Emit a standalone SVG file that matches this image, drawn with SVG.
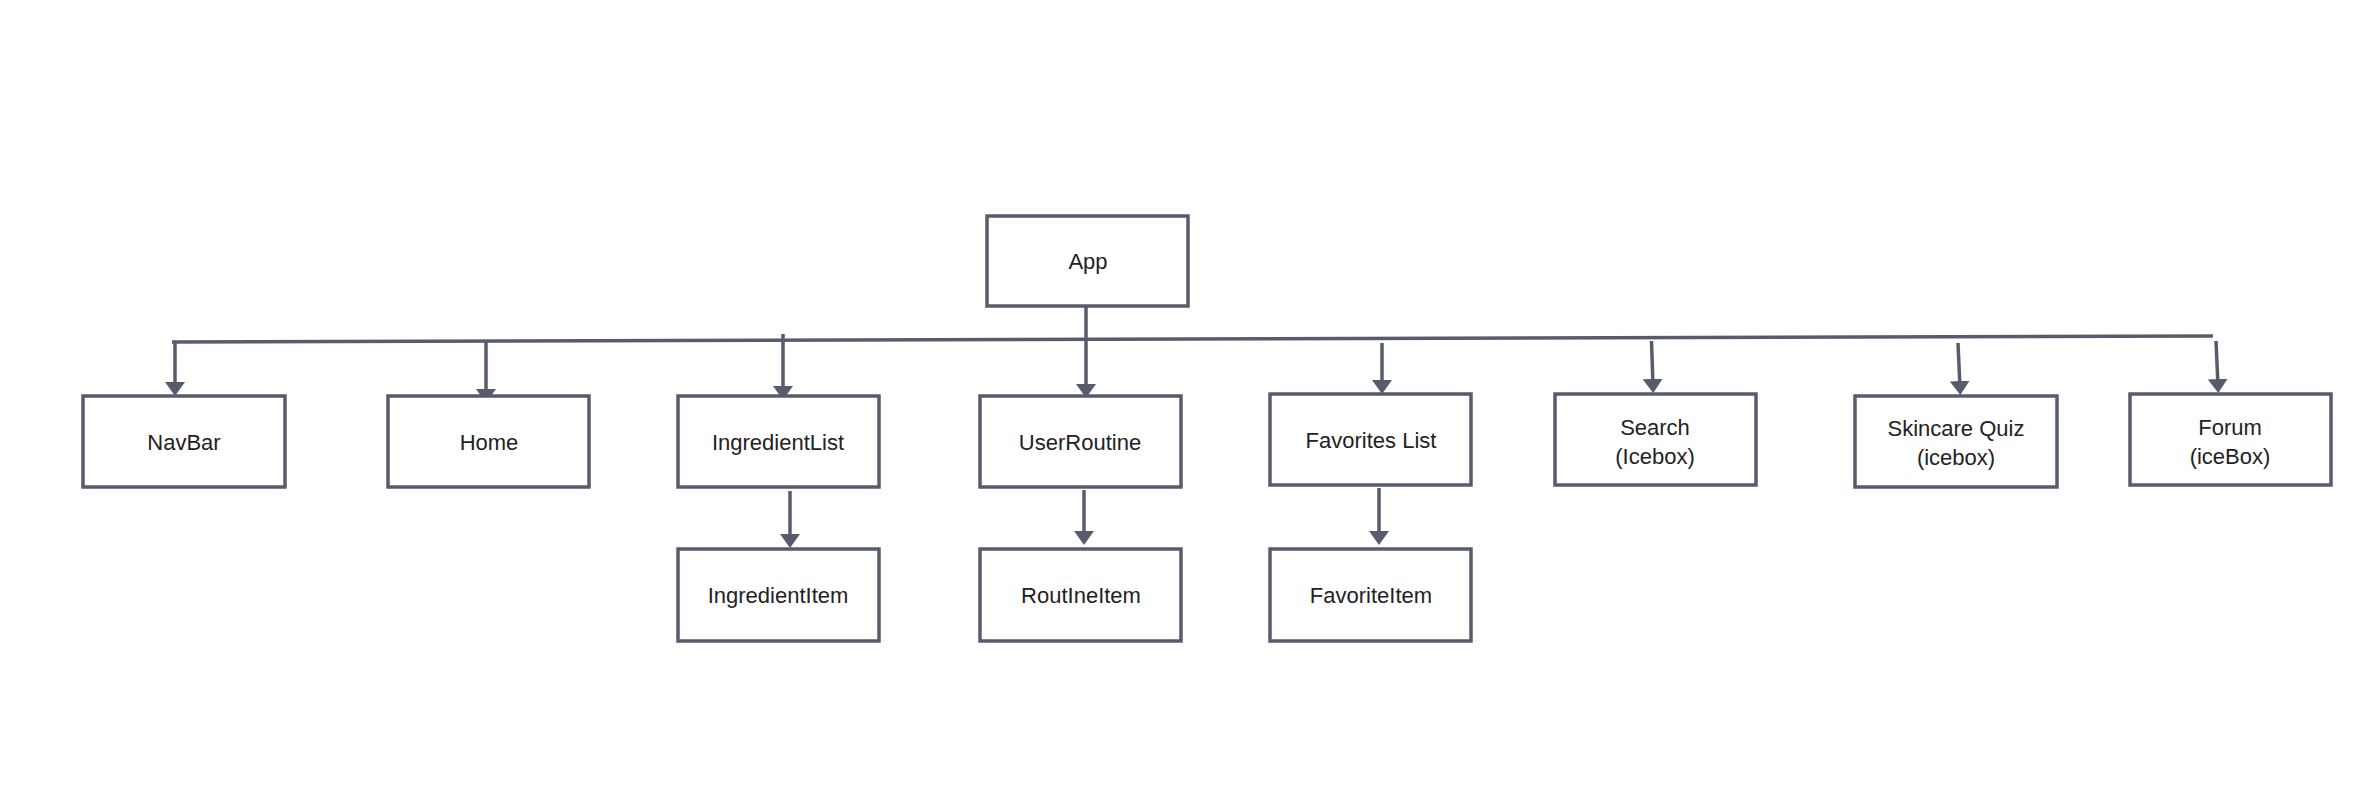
<svg xmlns="http://www.w3.org/2000/svg" width="2374" height="788" viewBox="0 0 2374 788">
<style>
.box{fill:#ffffff;stroke:#575c6d;stroke-width:3.5}
.lbl{font-family:"Liberation Sans",Arial,sans-serif;font-size:22px;fill:#222222;text-anchor:middle;dominant-baseline:central}
.con{stroke:#575c6d;stroke-width:3.5;fill:none}
.arr{marker-end:url(#ah)}
</style>
<defs>
<marker id="ah" markerUnits="userSpaceOnUse" markerWidth="14" markerHeight="20" refX="7" refY="10" orient="auto">
<path d="M0,0 L14,10 L0,20 Z" fill="#575c6d"/>
</marker>
</defs>
<rect width="2374" height="788" fill="#ffffff"/>
<g id="connectors">
<line class="con" x1="172" y1="342" x2="2213" y2="336"/>
<line class="con arr" x1="1086" y1="307" x2="1086" y2="391"/>
<line class="con arr" x1="175" y1="342" x2="175" y2="389"/>
<line class="con arr" x1="486" y1="341" x2="486" y2="396"/>
<line class="con arr" x1="783" y1="334" x2="783" y2="393"/>
<line class="con arr" x1="1382" y1="343" x2="1382" y2="387"/>
<line class="con arr" x1="1651.5" y1="341" x2="1653" y2="386"/>
<line class="con arr" x1="1958" y1="343" x2="1960" y2="388"/>
<line class="con arr" x1="2216" y1="341" x2="2218" y2="386"/>
<line class="con arr" x1="790" y1="491" x2="790" y2="541"/>
<line class="con arr" x1="1084" y1="490" x2="1084" y2="538"/>
<line class="con arr" x1="1379" y1="488" x2="1379" y2="538"/>
</g>
<g id="app"><rect class="box" x="987" y="216" width="201" height="90"/><text class="lbl" x="1088" y="261">App</text></g>
<g id="navbar"><rect class="box" x="83" y="396" width="202" height="91"/><text class="lbl" x="184" y="442">NavBar</text></g>
<g id="home"><rect class="box" x="388" y="396" width="201" height="91"/><text class="lbl" x="489" y="442">Home</text></g>
<g id="ingredientlist"><rect class="box" x="678" y="396" width="201" height="91"/><text class="lbl" x="778" y="442">IngredientList</text></g>
<g id="userroutine"><rect class="box" x="980" y="396" width="201" height="91"/><text class="lbl" x="1080" y="442">UserRoutine</text></g>
<g id="favoriteslist"><rect class="box" x="1270" y="394" width="201" height="91"/><text class="lbl" x="1371" y="440">Favorites List</text></g>
<g id="search"><rect class="box" x="1555" y="394" width="201" height="91"/><text class="lbl" x="1655" y="427">Search</text><text class="lbl" x="1655" y="456">(Icebox)</text></g>
<g id="skincarequiz"><rect class="box" x="1855" y="396" width="202" height="91"/><text class="lbl" x="1956" y="428">Skincare Quiz</text><text class="lbl" x="1956" y="457">(icebox)</text></g>
<g id="forum"><rect class="box" x="2130" y="394" width="201" height="91"/><text class="lbl" x="2230" y="427">Forum</text><text class="lbl" x="2230" y="456">(iceBox)</text></g>
<g id="ingredientitem"><rect class="box" x="678" y="549" width="201" height="92"/><text class="lbl" x="778" y="595">IngredientItem</text></g>
<g id="routineitem"><rect class="box" x="980" y="549" width="201" height="92"/><text class="lbl" x="1081" y="595">RoutIneItem</text></g>
<g id="favoriteitem"><rect class="box" x="1270" y="549" width="201" height="92"/><text class="lbl" x="1371" y="595">FavoriteItem</text></g>
</svg>
